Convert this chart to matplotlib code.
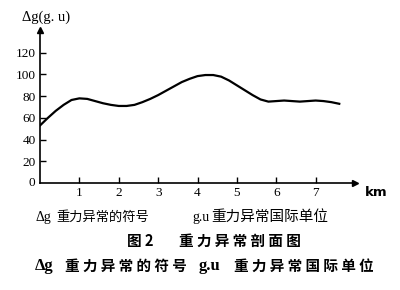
import matplotlib
matplotlib.use("Agg")
from matplotlib import pyplot as plt

# profile of the gravity anomaly
km = [0.0, 0.2, 0.4, 0.6, 0.8, 1.0, 1.2, 1.4, 1.6, 1.8, 2.0, 2.2, 2.4, 2.6,
      2.8, 3.0, 3.2, 3.4, 3.6, 3.8, 4.0, 4.2, 4.4, 4.6, 4.8, 5.0, 5.2, 5.4,
      5.6, 5.8, 6.0, 6.2, 6.4, 6.6, 6.8, 7.0, 7.2, 7.4, 7.6]
dg = [53, 60, 66.5, 72, 76.5, 78, 77.5, 75.5, 73.5, 72, 71, 71, 72, 74.5,
      77.5, 81, 85, 89, 93, 96, 98.5, 99.5, 99.5, 98, 94.5, 90, 85.5, 81,
      77, 75, 75.5, 76, 75.5, 75, 75.5, 76, 75.5, 74.5, 73]
xticks = [1, 2, 3, 4, 5, 6, 7]
yticks = [20, 40, 60, 80, 100, 120]

cjk = ['Noto Sans CJK SC', 'DejaVu Sans']
serif = 'Liberation Serif'

fig = plt.figure(figsize=(4, 2.9), dpi=100)
ax = fig.add_axes([40 / 400, 1 - 183 / 290, 315 / 400, 153 / 290])

ax.plot(km, dg, color='black', lw=1.6)
ax.set_xlim(0, 8)
ax.set_ylim(0, 141)
ax.set_xticks(xticks)
ax.set_yticks(yticks)
ax.set_xticklabels([str(t) for t in xticks], family=serif, fontsize=9.5)
ax.set_yticklabels([str(t) for t in yticks], family=serif, fontsize=9.5)
ax.tick_params(direction='in', length=4, width=1, pad=3)
for s in ['top', 'right']:
    ax.spines[s].set_visible(False)
for s in ['left', 'bottom']:
    ax.spines[s].set_linewidth(1.2)

# arrow heads on the axes
ax.plot(1, 0, '>k', ms=5, transform=ax.transAxes, clip_on=False)
ax.plot(0, 1, '^k', ms=4, transform=ax.transAxes, clip_on=False)

ax.text(-0.015, 0, '0', transform=ax.transAxes, family=serif, fontsize=9.5,
        ha='right', va='center')
ax.text(1.03, -0.065, 'km', transform=ax.transAxes, fontsize=9.5,
        fontweight='bold', ha='left', va='center')
fig.text(22 / 400, 1 - 17 / 290, 'Δg(g. u)', family=serif, fontsize=10.5,
         va='center')

# caption line 1
y1 = 1 - 217 / 290
fig.text(35 / 400, y1, 'Δg', family=serif, fontsize=10, va='center')
fig.text(56 / 400, y1, '重力异常的符号', family=cjk, fontsize=9.5, va='center')
fig.text(192 / 400, y1, 'g.u', family=serif, fontsize=10, va='center')
fig.text(211 / 400, y1, '重力异常国际单位', family=cjk, fontsize=10.5,
         va='center')

# caption line 2
y2 = 1 - 241 / 290
fig.text(127 / 400, y2, '图 2', family=cjk, fontsize=10.5, fontweight='bold',
         va='center')
fig.text(179 / 400, y2, '重 力 异 常 剖 面 图', family=cjk, fontsize=10.5,
         fontweight='bold', va='center')

# caption line 3
y3 = 1 - 266 / 290
fig.text(35 / 400, y3, 'Δg', family=serif, fontsize=12, fontweight='bold',
         va='center')
fig.text(65 / 400, y3, '重 力 异 常 的 符 号', family=cjk, fontsize=10.5,
         fontweight='bold', va='center')
fig.text(199 / 400, y3, 'g.u', family=serif, fontsize=12, fontweight='bold',
         va='center')
fig.text(234 / 400, y3, '重 力 异 常 国 际 单 位', family=cjk, fontsize=10.5,
         fontweight='bold', va='center')

plt.savefig('out.png', dpi=100)
